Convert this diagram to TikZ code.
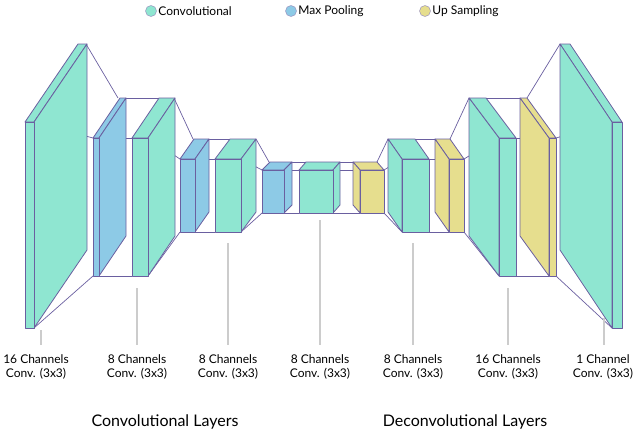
\documentclass[tikz,border=0pt]{standalone}
\usepackage{fontspec}
\setmainfont{Lato}
\begin{document}
\begin{tikzpicture}[x=1pt,y=-1pt,line join=round,
  edge/.style={draw=lnc,line width=0.8pt},
  link/.style={draw=lnc,line width=0.7pt},
  tick/.style={draw=black!20,line width=1.2pt},
  lab/.style={font=\fontsize{12}{14}\selectfont,align=center,inner sep=0pt},
  keytext/.style={anchor=west,font=\fontsize{12}{14}\selectfont,inner sep=1.5pt},
  title/.style={font=\fontsize{16}{18}\selectfont},
  key/.style={circle,draw=lnc!70,line width=0.5pt,minimum size=11pt,inner sep=0pt}]
\definecolor{cg}{HTML}{8FE6D1}
\definecolor{cb}{HTML}{8DCAE6}
\definecolor{cy}{HTML}{E6DE8E}
\definecolor{lnc}{HTML}{6A5FA0}
\useasboundingbox (0,0) rectangle (640,434);
% slab: x, width, top, bottom, dx, dy, colour
\newcommand\slab[7]{%
  \pgfmathsetmacro\xa{#1}\pgfmathsetmacro\xb{#1+#2}%
  \pgfmathsetmacro\dxx{#5}%
  \ifdim\dxx pt>0pt \pgfmathsetmacro\xs{\xb}\else\pgfmathsetmacro\xs{\xa}\fi
  \filldraw[edge,fill=#7] (\xa,#3) -- (\xa+#5,#3+#6) -- (\xb+#5,#3+#6) -- (\xb,#3) -- cycle;
  \filldraw[edge,fill=#7] (\xs,#3) -- (\xs+#5,#3+#6) -- (\xs+#5,#4+#6) -- (\xs,#4) -- cycle;
  \filldraw[edge,fill=#7] (\xa,#3) rectangle (\xb,#4);}
% legend
\node[key,fill=cg] (k1) at (151,11) {};
\node[keytext] at (k1.east) {Convolutional};
\node[key,fill=cb] (k2) at (291,11) {};
\node[keytext] at (k2.east) {Max Pooling};
\node[key,fill=cy] (k3) at (425,11) {};
\node[keytext] at (k3.east) {Up Sampling};
% links between slabs (left half)
\draw[link] (86,44) -- (118,98) (34,122) -- (93,138) (34,328) -- (93,276);
\draw[link] (126,98) -- (167,98) (99,138) -- (132,138) (99,276) -- (132,276);
\draw[link] (174,98) -- (193,139) (148,138) -- (180,159) (148,276) -- (180,232);
\draw[link] (209,139) -- (249,139) (195,159) -- (215,159) (195,232) -- (215,232);
\draw[link] (256,139) -- (269,162) (241,159) -- (262,170) (241,232) -- (262,213);
\draw[link] (292,162) -- (306,162) (284,170) -- (299,170) (284,213) -- (299,213);
% right half
\draw[link] (340,162) -- (353,162) (333,170) -- (360,170) (333,213) -- (360,213);
\draw[link] (377,162) -- (388,139) (384,170) -- (402,159) (384,213) -- (402,232);
\draw[link] (415,139) -- (435,139) (429,159) -- (449,159) (429,232) -- (449,232);
\draw[link] (450,139) -- (469,98) (464,159) -- (499,138) (464,232) -- (499,276);
\draw[link] (486,98) -- (520,98) (516,138) -- (549,138) (516,276) -- (549,276);
\draw[link] (527,98) -- (560,44) (556,138) -- (612,122) (556,276) -- (612,328);
% slabs
\slab{25}{9}{122}{328}{53}{-78}{cg}
\slab{93}{6}{138}{276}{27}{-40}{cb}
\slab{132}{16}{138}{276}{27}{-40}{cg}
\slab{180}{15}{159}{232}{14}{-20}{cb}
\slab{215}{26}{159}{232}{15}{-20}{cg}
\slab{262}{22}{170}{213}{8}{-8}{cb}
\slab{299}{34}{170}{213}{7}{-8}{cg}
\slab{360}{24}{170}{213}{-7}{-8}{cy}
\slab{402}{27}{159}{232}{-14}{-20}{cg}
\slab{449}{15}{159}{232}{-14}{-20}{cy}
\slab{499}{17}{138}{276}{-30}{-40}{cg}
\slab{549}{7}{138}{276}{-29}{-40}{cy}
\slab{612}{10}{122}{328}{-52}{-78}{cg}
% ticks and labels
\foreach \x/\y/\t [count=\i] in {41/330/16 Channels,137/288/8 Channels,228/243/8 Channels,
    320/220/8 Channels,413/243/8 Channels,508/288/16 Channels,604/318/1 Channel}{
  \draw[tick] (\x,\y) -- (\x,345);
  \node[lab] (l\i) at ({\x<100 ? 36 : (\x>560 ? 603 : \x)},367) {\t\\Conv. (3x3)};
}
\node[title] (t1) at (165,422) {Convolutional Layers};
\node[title] (t2) at (465,422) {Deconvolutional Layers};
\end{tikzpicture}
\end{document}
